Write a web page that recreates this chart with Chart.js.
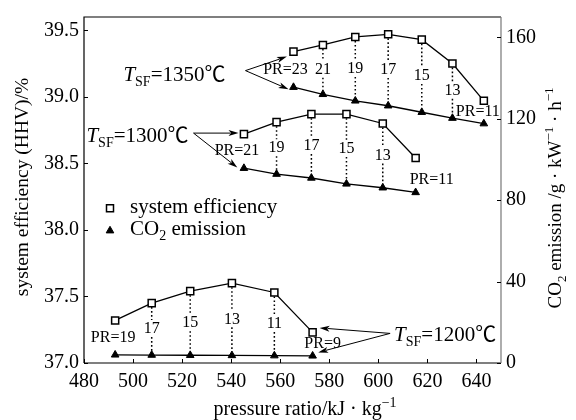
<!DOCTYPE html>
<html>
<head>
<meta charset="utf-8">
<script src="https://cdn.jsdelivr.net/npm/chart.js@4.4.1/dist/chart.umd.min.js"></script>
<style>
  html, body { margin: 0; padding: 0; background: #fff; }
  #wrap { width: 576px; height: 420px; }
</style>
</head>
<body>
<div id="wrap"><canvas id="chart" width="576" height="420"></canvas></div>
<script>
// specific work (x axis) and results for each steam/fuel temperature
const x1350 = [565.4, 577.4, 590.6, 604.0, 617.7, 630.2, 643.0];
const eff1350 = [39.34, 39.39, 39.45, 39.47, 39.43, 39.25, 38.97];
const co2_1350 = [135.5, 132.0, 128.8, 126.4, 123.2, 120.3, 117.6];
const pr1350 = ['PR=23', '21', '19', '17', '15', '13', 'PR=11'];

const x1300 = [545.2, 558.5, 572.7, 587.0, 601.8, 615.2];
const eff1300 = [38.72, 38.81, 38.87, 38.87, 38.80, 38.54];
const co2_1300 = [95.7, 92.8, 90.9, 88.0, 86.1, 83.8];
const pr1300 = ['PR=21', '19', '17', '15', '13', 'PR=11'];

const x1200 = [492.7, 507.6, 523.3, 540.3, 557.6, 573.2];
const eff1200 = [37.32, 37.45, 37.54, 37.60, 37.53, 37.23];
const co2_1200 = [4.0, 3.9, 3.8, 3.7, 3.6, 3.5];
const pr1200 = ['PR=19', '17', '15', '13', '11', 'PR=9'];

const FONT = "'Liberation Serif', 'Times New Roman', 'Noto Sans CJK SC', serif";

const groups = [
    { temp: '1350', x: x1350, eff: eff1350, co2: co2_1350, pr: pr1350,
      // label nudges for the "PR=" end labels, arrow layout (px)
      firstDx: -8, lastDx: -6, lastDy: 0,
      note: { idx: 0, origin: [-48, 19], tipS: [-6.6, 5], tipT: [-5, 2], text: [-20, 10.5], align: 'right' } },
    { temp: '1300', x: x1300, eff: eff1300, co2: co2_1300, pr: pr1300,
      firstDx: -7, lastDx: 16, lastDy: 5,
      note: { idx: 0, origin: [-50.4, -1], tipS: [-5.4, -1], tipT: [-6.6, -0.7], text: [-5, 8.7], align: 'right' } },
    { temp: '1200', x: x1200, eff: eff1200, co2: co2_1200, pr: pr1200,
      firstDx: -2, lastDx: 10, lastDy: 0,
      note: { idx: 5, origin: [77.5, 1], tipS: [7, -4.5], tipT: [5.6, -3.5], text: [4, 7.3], align: 'left' } },
];

const datasets = [];
groups.forEach(g => {
    datasets.push({
        label: 'system efficiency ' + g.temp,
        data: g.x.map((v, i) => ({ x: v, y: g.eff[i] })),
        yAxisID: 'y',
        borderColor: '#000',
        borderWidth: 1.3,
        pointStyle: 'rect',
        pointRadius: 5,
        pointBorderWidth: 1.5,
        pointBackgroundColor: '#fff',
        pointBorderColor: '#000',
    });
    datasets.push({
        label: 'CO2 emission ' + g.temp,
        data: g.x.map((v, i) => ({ x: v, y: g.co2[i] })),
        yAxisID: 'y1',
        borderColor: '#000',
        borderWidth: 1.3,
        pointStyle: 'triangle',
        pointRadius: 4.4,
        pointBorderWidth: 1,
        pointBackgroundColor: '#000',
        pointBorderColor: '#000',
    });
});

// draws text made of parts: [text, kind] kind = '', 'i' (italic), 'sub', 'sup'
function fontFor(kind, size) {
    const small = Math.round(size * 0.68);
    return (kind === 'i' ? 'italic ' : '') + ((kind === 'sub' || kind === 'sup') ? small : size) + 'px ' + FONT;
}
function richWidth(ctx, parts, size) {
    let w = 0;
    parts.forEach(p => { ctx.font = fontFor(p[1], size); w += ctx.measureText(p[0]).width; });
    return w;
}
function drawRich(ctx, parts, x, y, align, size) {
    const w = richWidth(ctx, parts, size);
    let cx = align === 'center' ? x - w / 2 : align === 'right' ? x - w : x;
    ctx.textAlign = 'left';
    ctx.textBaseline = 'alphabetic';
    parts.forEach(p => {
        ctx.font = fontFor(p[1], size);
        const dy = p[1] === 'sub' ? size * 0.25 : p[1] === 'sup' ? -size * 0.4 : 0;
        ctx.fillText(p[0], cx, y + dy);
        cx += ctx.measureText(p[0]).width;
    });
}

function arrow(ctx, x0, y0, x1, y1) {
    const a = Math.atan2(y1 - y0, x1 - x0);
    const len = 10, hw = 3;
    ctx.beginPath();
    ctx.moveTo(x0, y0);
    ctx.lineTo(x1 - Math.cos(a) * len * 0.8, y1 - Math.sin(a) * len * 0.8);
    ctx.stroke();
    ctx.beginPath();
    ctx.moveTo(x1, y1);
    ctx.lineTo(x1 - Math.cos(a) * len - Math.sin(a) * hw, y1 - Math.sin(a) * len + Math.cos(a) * hw);
    ctx.lineTo(x1 - Math.cos(a) * len * 0.75, y1 - Math.sin(a) * len * 0.75);
    ctx.lineTo(x1 - Math.cos(a) * len + Math.sin(a) * hw, y1 - Math.sin(a) * len - Math.cos(a) * hw);
    ctx.closePath();
    ctx.fill();
}

const decorations = {
    id: 'decorations',
    afterDatasetsDraw(chart) {
        const { ctx, chartArea: ca, scales } = chart;
        const sx = scales.x, sy = scales.y, sy1 = scales.y1;
        ctx.save();
        ctx.strokeStyle = '#000';
        ctx.fillStyle = '#000';

        // frame
        ctx.lineWidth = 1.2;
        ctx.beginPath();
        ctx.moveTo(ca.left, ca.bottom);
        ctx.lineTo(ca.left, ca.top);
        ctx.lineTo(ca.right, ca.top);
        ctx.moveTo(ca.left, ca.bottom);
        ctx.lineTo(ca.right, ca.bottom);
        ctx.stroke();
        ctx.strokeStyle = '#777';
        ctx.beginPath();
        ctx.moveTo(ca.right, ca.top);
        ctx.lineTo(ca.right, ca.bottom);
        ctx.stroke();

        // inward ticks
        ctx.strokeStyle = '#000';
        ctx.lineWidth = 1;
        ctx.beginPath();
        sx.ticks.forEach(t => { const p = Math.round(sx.getPixelForValue(t.value)) + 0.5; ctx.moveTo(p, ca.bottom); ctx.lineTo(p, ca.bottom - 4); });
        sy.ticks.forEach(t => { const p = Math.round(sy.getPixelForValue(t.value)) + 0.5; ctx.moveTo(ca.left, p); ctx.lineTo(ca.left + 4, p); });
        sy1.ticks.forEach(t => { const p = Math.round(sy1.getPixelForValue(t.value)) + 0.5; ctx.moveTo(ca.right, p); ctx.lineTo(ca.right - 4, p); });
        ctx.stroke();

        // PR labels and dotted connectors
        groups.forEach(g => {
            g.x.forEach((xv, i) => {
                const px = sx.getPixelForValue(xv);
                const ps = sy.getPixelForValue(g.eff[i]);
                const pt = sy1.getPixelForValue(g.co2[i]);
                const mid = (ps + pt) / 2;
                const last = i === g.x.length - 1;
                const end = i === 0 || last;
                if (!end) {
                    ctx.save();
                    ctx.setLineDash([1.6, 2.4]);
                    ctx.lineWidth = 1.5;
                    ctx.beginPath();
                    ctx.moveTo(px, ps + 4);
                    ctx.lineTo(px, mid - 9);
                    ctx.moveTo(px, mid + 8);
                    ctx.lineTo(px, pt - 4);
                    ctx.stroke();
                    ctx.restore();
                }
                const dx = i === 0 ? g.firstDx : last ? g.lastDx : 0;
                const dy = last ? g.lastDy : 0;
                ctx.font = '16px ' + FONT;
                ctx.textAlign = 'center';
                ctx.textBaseline = 'middle';
                ctx.fillText(g.pr[i], px + dx, mid + dy);
            });

            // temperature note with two arrows
            const n = g.note;
            const px = sx.getPixelForValue(g.x[n.idx]);
            const ps = sy.getPixelForValue(g.eff[n.idx]);
            const pt = sy1.getPixelForValue(g.co2[n.idx]);
            const ox = px + n.origin[0], oy = ps + n.origin[1];
            ctx.lineWidth = 1;
            arrow(ctx, ox, oy, px + n.tipS[0], ps + n.tipS[1]);
            arrow(ctx, ox, oy, px + n.tipT[0], pt + n.tipT[1]);
            drawRich(ctx, [['T', 'i'], ['SF', 'sub'], ['=' + g.temp + '℃', '']],
                ox + n.text[0], oy + n.text[1], n.align, 21);
        });

        // legend
        ctx.lineWidth = 1.5;
        ctx.fillStyle = '#fff';
        ctx.beginPath();
        ctx.rect(110 - 3.5, 208.3 - 3.5, 7, 7);
        ctx.fill();
        ctx.stroke();
        ctx.fillStyle = '#000';
        ctx.beginPath();
        ctx.moveTo(110, 230.7 - 4.4);
        ctx.lineTo(110 + 3.8, 230.7 + 2.2);
        ctx.lineTo(110 - 3.8, 230.7 + 2.2);
        ctx.closePath();
        ctx.fill();
        ctx.lineWidth = 1;
        ctx.stroke();
        drawRich(ctx, [['system efficiency', '']], 130, 213, 'left', 21);
        drawRich(ctx, [['CO', ''], ['2', 'sub'], [' emission', '']], 130, 235, 'left', 21);

        // axis titles
        drawRich(ctx, [['pressure ratio/kJ · kg', ''], ['−1', 'sup']], 305, 415, 'center', 20);
        ctx.save();
        ctx.translate(28, 187);
        ctx.rotate(-Math.PI / 2);
        drawRich(ctx, [['system efficiency (HHV)/%', '']], 0, 0, 'center', 19.5);
        ctx.restore();
        ctx.save();
        ctx.translate(561, 198);
        ctx.rotate(-Math.PI / 2);
        drawRich(ctx, [['CO', ''], ['2', 'sub'], [' emission /g · kW', ''], ['−1', 'sup'], [' · h', ''], ['−1', 'sup']], 0, 0, 'center', 19);
        ctx.restore();

        ctx.restore();
    }
};

new Chart(document.getElementById('chart'), {
    type: 'line',
    data: { datasets: datasets },
    options: {
        responsive: false,
        animation: false,
        devicePixelRatio: 1,
        layout: { padding: { top: 9, left: 0, right: 0, bottom: 0 } },
        plugins: { legend: { display: false }, tooltip: { enabled: false } },
        scales: {
            x: {
                type: 'linear',
                min: 480,
                max: 650,
                grid: { display: false, drawTicks: false },
                border: { display: false },
                ticks: { stepSize: 20, includeBounds: false, padding: 7, color: '#000', font: { family: FONT, size: 20 } },
                afterFit: s => { s.height = 57; },
            },
            y: {
                position: 'left',
                min: 37,
                max: 39.6,
                grid: { display: false, drawTicks: false },
                border: { display: false },
                ticks: { stepSize: 0.5, includeBounds: false, padding: 5, color: '#000', font: { family: FONT, size: 20 },
                         callback: v => v.toFixed(1) },
                afterFit: s => { s.width = 84; },
            },
            y1: {
                position: 'right',
                min: 0,
                max: 170,
                grid: { display: false, drawTicks: false },
                border: { display: false },
                ticks: { stepSize: 40, includeBounds: false, padding: 5, color: '#000', font: { family: FONT, size: 20 } },
                afterFit: s => { s.width = 75; },
            },
        },
    },
    plugins: [decorations],
});
</script>
</body>
</html>
